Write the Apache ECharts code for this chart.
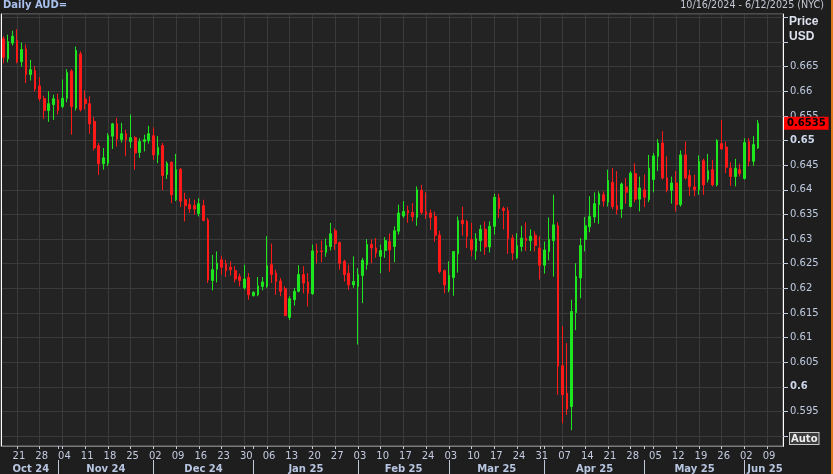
<!DOCTYPE html>
<html><head><meta charset="utf-8">
<style>html,body{margin:0;padding:0;background:#1e1e1e;}#c{width:833px;height:474px;}</style>
<script src="https://cdn.jsdelivr.net/npm/echarts@6/dist/echarts.min.js"></script>
</head><body><div id="c"></div>
<script>
const dates = [
'2024-10-16','2024-10-17','2024-10-18','2024-10-21','2024-10-22','2024-10-23','2024-10-24','2024-10-25','2024-10-28','2024-10-29','2024-10-30','2024-10-31',
'2024-11-01','2024-11-04','2024-11-05','2024-11-06','2024-11-07','2024-11-08','2024-11-11','2024-11-12','2024-11-13','2024-11-14','2024-11-15','2024-11-18','2024-11-19','2024-11-20','2024-11-21','2024-11-22','2024-11-25','2024-11-26','2024-11-27','2024-11-28','2024-11-29',
'2024-12-02','2024-12-03','2024-12-04','2024-12-05','2024-12-06','2024-12-09','2024-12-10','2024-12-11','2024-12-12','2024-12-13','2024-12-16','2024-12-17','2024-12-18','2024-12-19','2024-12-20','2024-12-23','2024-12-24','2024-12-25','2024-12-26','2024-12-27','2024-12-30','2024-12-31',
'2025-01-01','2025-01-02','2025-01-03','2025-01-06','2025-01-07','2025-01-08','2025-01-09','2025-01-10','2025-01-13','2025-01-14','2025-01-15','2025-01-16','2025-01-17','2025-01-20','2025-01-21','2025-01-22','2025-01-23','2025-01-24','2025-01-27','2025-01-28','2025-01-29','2025-01-30','2025-01-31',
'2025-02-03','2025-02-04','2025-02-05','2025-02-06','2025-02-07','2025-02-10','2025-02-11','2025-02-12','2025-02-13','2025-02-14','2025-02-17','2025-02-18','2025-02-19','2025-02-20','2025-02-21','2025-02-24','2025-02-25','2025-02-26','2025-02-27','2025-02-28',
'2025-03-03','2025-03-04','2025-03-05','2025-03-06','2025-03-07','2025-03-10','2025-03-11','2025-03-12','2025-03-13','2025-03-14','2025-03-17','2025-03-18','2025-03-19','2025-03-20','2025-03-21','2025-03-24','2025-03-25','2025-03-26','2025-03-27','2025-03-28','2025-03-31',
'2025-04-01','2025-04-02','2025-04-03','2025-04-04','2025-04-07','2025-04-08','2025-04-09','2025-04-10','2025-04-11','2025-04-14','2025-04-15','2025-04-16','2025-04-17','2025-04-18','2025-04-21','2025-04-22','2025-04-23','2025-04-24','2025-04-25','2025-04-28','2025-04-29','2025-04-30',
'2025-05-01','2025-05-02','2025-05-05','2025-05-06','2025-05-07','2025-05-08','2025-05-09','2025-05-12','2025-05-13','2025-05-14','2025-05-15','2025-05-16','2025-05-19','2025-05-20','2025-05-21','2025-05-22','2025-05-23','2025-05-26','2025-05-27','2025-05-28','2025-05-29','2025-05-30',
'2025-06-02','2025-06-03','2025-06-04','2025-06-05','2025-06-06','2025-06-09','2025-06-10','2025-06-11','2025-06-12'
];
const opens = [
.6707,.6666,.6698,.6703,.6660,.6686,.6634,.6642,.6611,.6585,
.6561,.6573,.6583,.6569,.6586,.6641,.6566,.6676,.6584,.6575,
.6539,.6490,.6453,.6454,.6509,.6534,.6502,.6514,.6498,.6506,
.6476,.6498,.6500,.6510,.6471,.6490,.6431,.6456,.6380,.6442,
.6380,.6370,.6368,.6352,.6368,.6339,.6216,.6239,.6258,.6250,
.6243,.6236,.6224,.6201,.6222,.6185,.6187,.6204,.6204,.6248,
.6231,.6215,.6199,.6141,.6177,.6194,.6228,.6213,.6189,.6276,
.6276,.6273,.6285,.6317,.6293,.6255,.6231,.6207,.6204,.6226,
.6248,.6289,.6282,.6265,.6277,.6295,.6285,.6316,.6347,.6358,
.6354,.6344,.6399,.6356,.6353,.6346,.6308,.6236,.6197,.6222,
.6270,.6338,.6336,.6299,.6276,.6297,.6320,.6284,.6326,.6384,
.6362,.6358,.6302,.6262,.6285,.6302,.6297,.6308,.6282,.6247,
.6275,.6297,.6327,.6043,.5987,.5960,.6151,.6221,.6299,.6325,
.6345,.6370,.6390,.6375,.6415,.6368,.6361,.6406,.6366,.6433,
.6381,.6400,.6380,.6421,.6468,.6495,.6424,.6399,.6414,.6370,
.6471,.6429,.6406,.6400,.6459,.6421,.6441,.6410,.6494,.6487,
.6444,.6427,.6441,.6423,.6498,.6458,.6485
];
const highs = [
.6712,.6715,.6723,.6726,.6699,.6695,.6664,.6651,.6629,.6591,
.6600,.6593,.6595,.6624,.6645,.6645,.6691,.6681,.6602,.6590,
.6548,.6495,.6485,.6515,.6536,.6546,.6536,.6522,.6553,.6509,
.6505,.6512,.6530,.6527,.6509,.6495,.6458,.6458,.6473,.6444,
.6394,.6383,.6380,.6383,.6380,.6343,.6268,.6275,.6266,.6258,
.6255,.6245,.6230,.6248,.6231,.6194,.6223,.6223,.6306,.6291,
.6238,.6221,.6204,.6184,.6201,.6247,.6245,.6231,.6289,.6291,
.6297,.6301,.6333,.6322,.6295,.6258,.6248,.6265,.6241,.6262,
.6300,.6299,.6302,.6289,.6304,.6311,.6326,.6370,.6377,.6368,
.6373,.6407,.6410,.6395,.6360,.6356,.6317,.6238,.6255,.6275,
.6346,.6366,.6339,.6333,.6312,.6329,.6336,.6336,.6392,.6392,
.6366,.6365,.6309,.6312,.6327,.6334,.6320,.6316,.6306,.6295,
.6344,.6390,.6334,.6123,.6089,.6177,.6251,.6302,.6345,.6387,
.6395,.6397,.6397,.6441,.6444,.6438,.6415,.6424,.6438,.6454,
.6427,.6431,.6471,.6475,.6503,.6519,.6468,.6427,.6438,.6480,
.6498,.6441,.6431,.6470,.6463,.6473,.6461,.6503,.6542,.6498,
.6456,.6463,.6453,.6505,.6505,.6509,.6542
];
const lows = [
.6657,.6659,.6693,.6657,.6650,.6617,.6622,.6600,.6580,.6544,
.6538,.6542,.6553,.6566,.6578,.6512,.6561,.6559,.6563,.6514,
.6480,.6430,.6441,.6448,.6483,.6488,.6496,.6469,.6485,.6441,
.6465,.6478,.6494,.6461,.6454,.6399,.6422,.6373,.6377,.6365,
.6336,.6353,.6350,.6346,.6336,.6211,.6196,.6212,.6228,.6223,
.6226,.6212,.6204,.6197,.6177,.6184,.6184,.6196,.6201,.6211,
.6187,.6184,.6143,.6136,.6165,.6192,.6190,.6163,.6187,.6251,
.6253,.6264,.6277,.6278,.6238,.6214,.6197,.6201,.6086,.6170,
.6238,.6251,.6262,.6231,.6262,.6234,.6253,.6309,.6343,.6333,
.6336,.6327,.6350,.6341,.6319,.6295,.6230,.6190,.6192,.6185,
.6232,.6307,.6282,.6265,.6258,.6275,.6268,.6273,.6309,.6343,
.6320,.6270,.6257,.6260,.6275,.6276,.6276,.6275,.6218,.6230,
.6257,.6224,.5984,.5926,.5943,.5912,.6115,.6180,.6275,.6314,
.6333,.6331,.6366,.6366,.6361,.6350,.6343,.6372,.6365,.6375,
.6356,.6365,.6375,.6395,.6438,.6421,.6395,.6372,.6356,.6366,
.6421,.6388,.6387,.6390,.6390,.6415,.6407,.6407,.6482,.6434,
.6408,.6407,.6427,.6421,.6448,.6449,.6483
];
const closes = [
.6669,.6701,.6712,.6660,.6685,.6634,.6644,.6605,.6585,.6561,
.6575,.6585,.6561,.6586,.6638,.6569,.6683,.6563,.6575,.6534,
.6485,.6453,.6465,.6510,.6534,.6503,.6514,.6502,.6506,.6475,
.6498,.6502,.6514,.6471,.6486,.6429,.6454,.6390,.6441,.6377,
.6368,.6361,.6361,.6372,.6338,.6217,.6238,.6251,.6243,.6236,
.6238,.6219,.6216,.6219,.6187,.6192,.6205,.6213,.6246,.6228,
.6214,.6194,.6145,.6179,.6194,.6228,.6211,.6190,.6276,.6273,
.6275,.6287,.6311,.6291,.6251,.6228,.6207,.6214,.6228,.6257,
.6289,.6282,.6272,.6277,.6297,.6278,.6317,.6353,.6356,.6353,
.6346,.6400,.6354,.6350,.6344,.6308,.6234,.6207,.6226,.6275,
.6338,.6331,.6306,.6278,.6301,.6320,.6284,.6326,.6385,.6362,
.6358,.6301,.6272,.6287,.6302,.6297,.6306,.6287,.6247,.6278,
.6299,.6329,.6042,.5984,.5955,.6153,.6224,.6287,.6327,.6346,
.6372,.6392,.6377,.6419,.6366,.6360,.6412,.6395,.6434,.6381,
.6404,.6385,.6444,.6469,.6495,.6424,.6400,.6414,.6370,.6471,
.6424,.6407,.6400,.6458,.6410,.6439,.6410,.6500,.6483,.6446,
.6427,.6444,.6433,.6496,.6458,.6492,.6535
];
const monthNames = ['Jan','Feb','Mar','Apr','May','Jun','Jul','Aug','Sep','Oct','Nov','Dec'];
const titleText = 'Daily AUD=';
const rangeText = '10/16/2024 - 6/12/2025 (NYC)';
const priceUnitLines = ['Price', 'USD'];
const yMin = 0.588, yMax = 0.6757, yStep = 0.005;
const yLabelLow = 0.595, yLabelHigh = 0.665;

const FONT = 'DejaVu Sans';
const UP = '#1ee61e', DOWN = '#ff1a1a';
const isMonday = i => new Date(dates[i] + 'T00:00:00Z').getUTCDay() === 1;
const isMonthStart = i => i > 0 && dates[i].slice(0, 7) !== dates[i - 1].slice(0, 7);
const monthMid = {};
let st = 0;
for (let i = 1; i <= dates.length; i++) {
  if (i === dates.length || dates[i].slice(0, 7) !== dates[st].slice(0, 7)) {
    const sum = st + i - 1;
    monthMid[Math.floor(sum / 2)] = {
      text: monthNames[+dates[st].slice(5, 7) - 1] + ' ' + dates[st].slice(2, 4),
      odd: sum % 2 === 1
    };
    st = i;
  }
}
const candle = dates.map((d, i) => i < opens.length ? [opens[i], closes[i], lows[i], highs[i]] : '-');
const lastClose = closes[closes.length - 1];

const chart = echarts.init(document.getElementById('c'), null, {renderer: 'canvas'});
chart.setOption({
  animation: false,
  backgroundColor: '#1e1e1e',
  grid: {left: 1, right: 50, top: 14, bottom: 28, show: true, backgroundColor: '#232323', borderColor: '#7c7c7c', borderWidth: 1},
  xAxis: [{
    type: 'category', data: dates, position: 'bottom', boundaryGap: true,
    axisLine: {show: true, lineStyle: {color: '#7c7c7c', width: 1}},
    axisTick: {show: true, alignWithLabel: true, length: 3, interval: i => isMonday(i) || isMonthStart(i), lineStyle: {color: '#c0c8d8'}},
    axisLabel: {interval: i => isMonday(i), formatter: v => v.slice(8, 10), color: '#c4cbe0', fontFamily: FONT, fontSize: 10, margin: 5, padding: [0, 0, 0, 4]},
    splitLine: {show: true, interval: i => isMonday(i), alignWithLabel: true, lineStyle: {color: '#3a3a3a', width: 1}}
  }, {
    type: 'category', data: dates, position: 'bottom', offset: 14, boundaryGap: true,
    axisLine: {show: false},
    axisTick: {show: true, alignWithLabel: true, length: 14, interval: i => isMonthStart(i), lineStyle: {color: '#c0c8d8'}},
    axisLabel: {
      interval: i => monthMid[i] !== undefined,
      formatter: (v, i) => { const m = monthMid[i]; return m ? (m.odd ? '{o|' + m.text + '}' : '{e|' + m.text + '}') : ''; },
      margin: 3,
      rich: {
        o: {fontFamily: FONT, fontSize: 10, fontWeight: 'bold', color: '#b8c6e2', padding: [0, 0, 0, 9.5], lineHeight: 12},
        e: {fontFamily: FONT, fontSize: 10, fontWeight: 'bold', color: '#b8c6e2', padding: [0, 0, 0, 5], lineHeight: 12}
      }
    },
    splitLine: {show: false}
  }],
  yAxis: [{
    type: 'value', position: 'right', min: yMin, max: yMax, splitNumber: 17, minInterval: yStep, maxInterval: yStep, scale: true,
    axisLine: {show: true, lineStyle: {color: '#ffffff', width: 1}},
    axisTick: {show: true, length: 5, lineStyle: {color: '#bfcbe0'}},
    axisLabel: {
      show: true, showMinLabel: false, showMaxLabel: false, margin: 7,
      color: '#bfcbe0', fontFamily: FONT, fontSize: 10,
      formatter: v => {
        const k = v / yStep;
        if (Math.abs(k - Math.round(k)) > 1e-6) return '';
        if (v < yLabelLow - 1e-6 || v > yLabelHigh + 1e-6) return '';
        const s = String(+v.toFixed(3));
        const big = Math.abs(v * 20 - Math.round(v * 20)) < 1e-6;
        return big ? '{b|' + s + '}' : s;
      },
      rich: {b: {fontFamily: FONT, fontSize: 10, fontWeight: 'bold', color: '#cdd7ea'}}
    },
    splitLine: {show: true, lineStyle: {color: '#3a3a3a', width: 1}},
    axisPointer: {
      show: true, type: 'line', status: 'show', value: lastClose, snap: false, triggerTooltip: false,
      lineStyle: {color: 'rgba(0,0,0,0)', width: 0},
      label: {show: true, precision: 4, margin: 1, backgroundColor: '#ff0000', color: '#000000', fontWeight: 'bold', fontFamily: FONT, fontSize: 10, padding: [2, 3, 1, 3], borderRadius: 0, shadowBlur: 0},
      handle: {show: false}
    }
  }, {
    type: 'value', position: 'left', min: yMin, max: yMax, splitNumber: 17, minInterval: yStep, maxInterval: yStep,
    axisLine: {show: true, lineStyle: {color: '#ffffff', width: 1}},
    axisTick: {show: false}, axisLabel: {show: false}, splitLine: {show: false}
  }],
  series: [{
    type: 'candlestick', xAxisIndex: 0, yAxisIndex: 0, data: candle, barWidth: 2.2,
    itemStyle: {color: UP, color0: DOWN, borderColor: UP, borderColor0: DOWN, borderColorDoji: UP, borderWidth: 1}
  }],
  graphic: [
    {type: 'text', left: 3, top: 0, style: {text: titleText, fill: '#a9c1ec', font: 'bold 10px "DejaVu Sans"'}},
    {type: 'text', x: 824, y: 0, style: {text: rangeText, fill: '#c4c8d2', font: '9.6px "DejaVu Sans"', textAlign: 'right'}},
    {type: 'text', x: 789, y: 16, style: {text: priceUnitLines[0], fill: '#dde2ee', font: 'bold 12px "Liberation Sans"'}},
    {type: 'text', x: 789, y: 31, style: {text: priceUnitLines[1], fill: '#dde2ee', font: 'bold 12px "Liberation Sans"'}},
    {type: 'line', shape: {x1: 1, y1: 14.5, x2: 22, y2: 14.5}, style: {stroke: '#ffffff', lineWidth: 1}},
    {type: 'line', shape: {x1: 1, y1: 446.5, x2: 22, y2: 446.5}, style: {stroke: '#ffffff', lineWidth: 1}},
    {type: 'line', shape: {x1: 763, y1: 14.5, x2: 784, y2: 14.5}, style: {stroke: '#ffffff', lineWidth: 1}},
    {type: 'line', shape: {x1: 763, y1: 446.5, x2: 784, y2: 446.5}, style: {stroke: '#ffffff', lineWidth: 1}},
    {type: 'rect', shape: {x: 831, y: 0, width: 2, height: 474}, style: {fill: '#e07b20'}},
    {type: 'text', x: 790, y: 433, style: {text: 'Auto', fill: '#eeeeee', font: 'bold 10px "DejaVu Sans"', backgroundColor: '#3c3c3c', borderColor: '#c8c8c8', borderWidth: 1, padding: [1, 1, 0, 1]}}
  ]
});
</script>
</body></html>
